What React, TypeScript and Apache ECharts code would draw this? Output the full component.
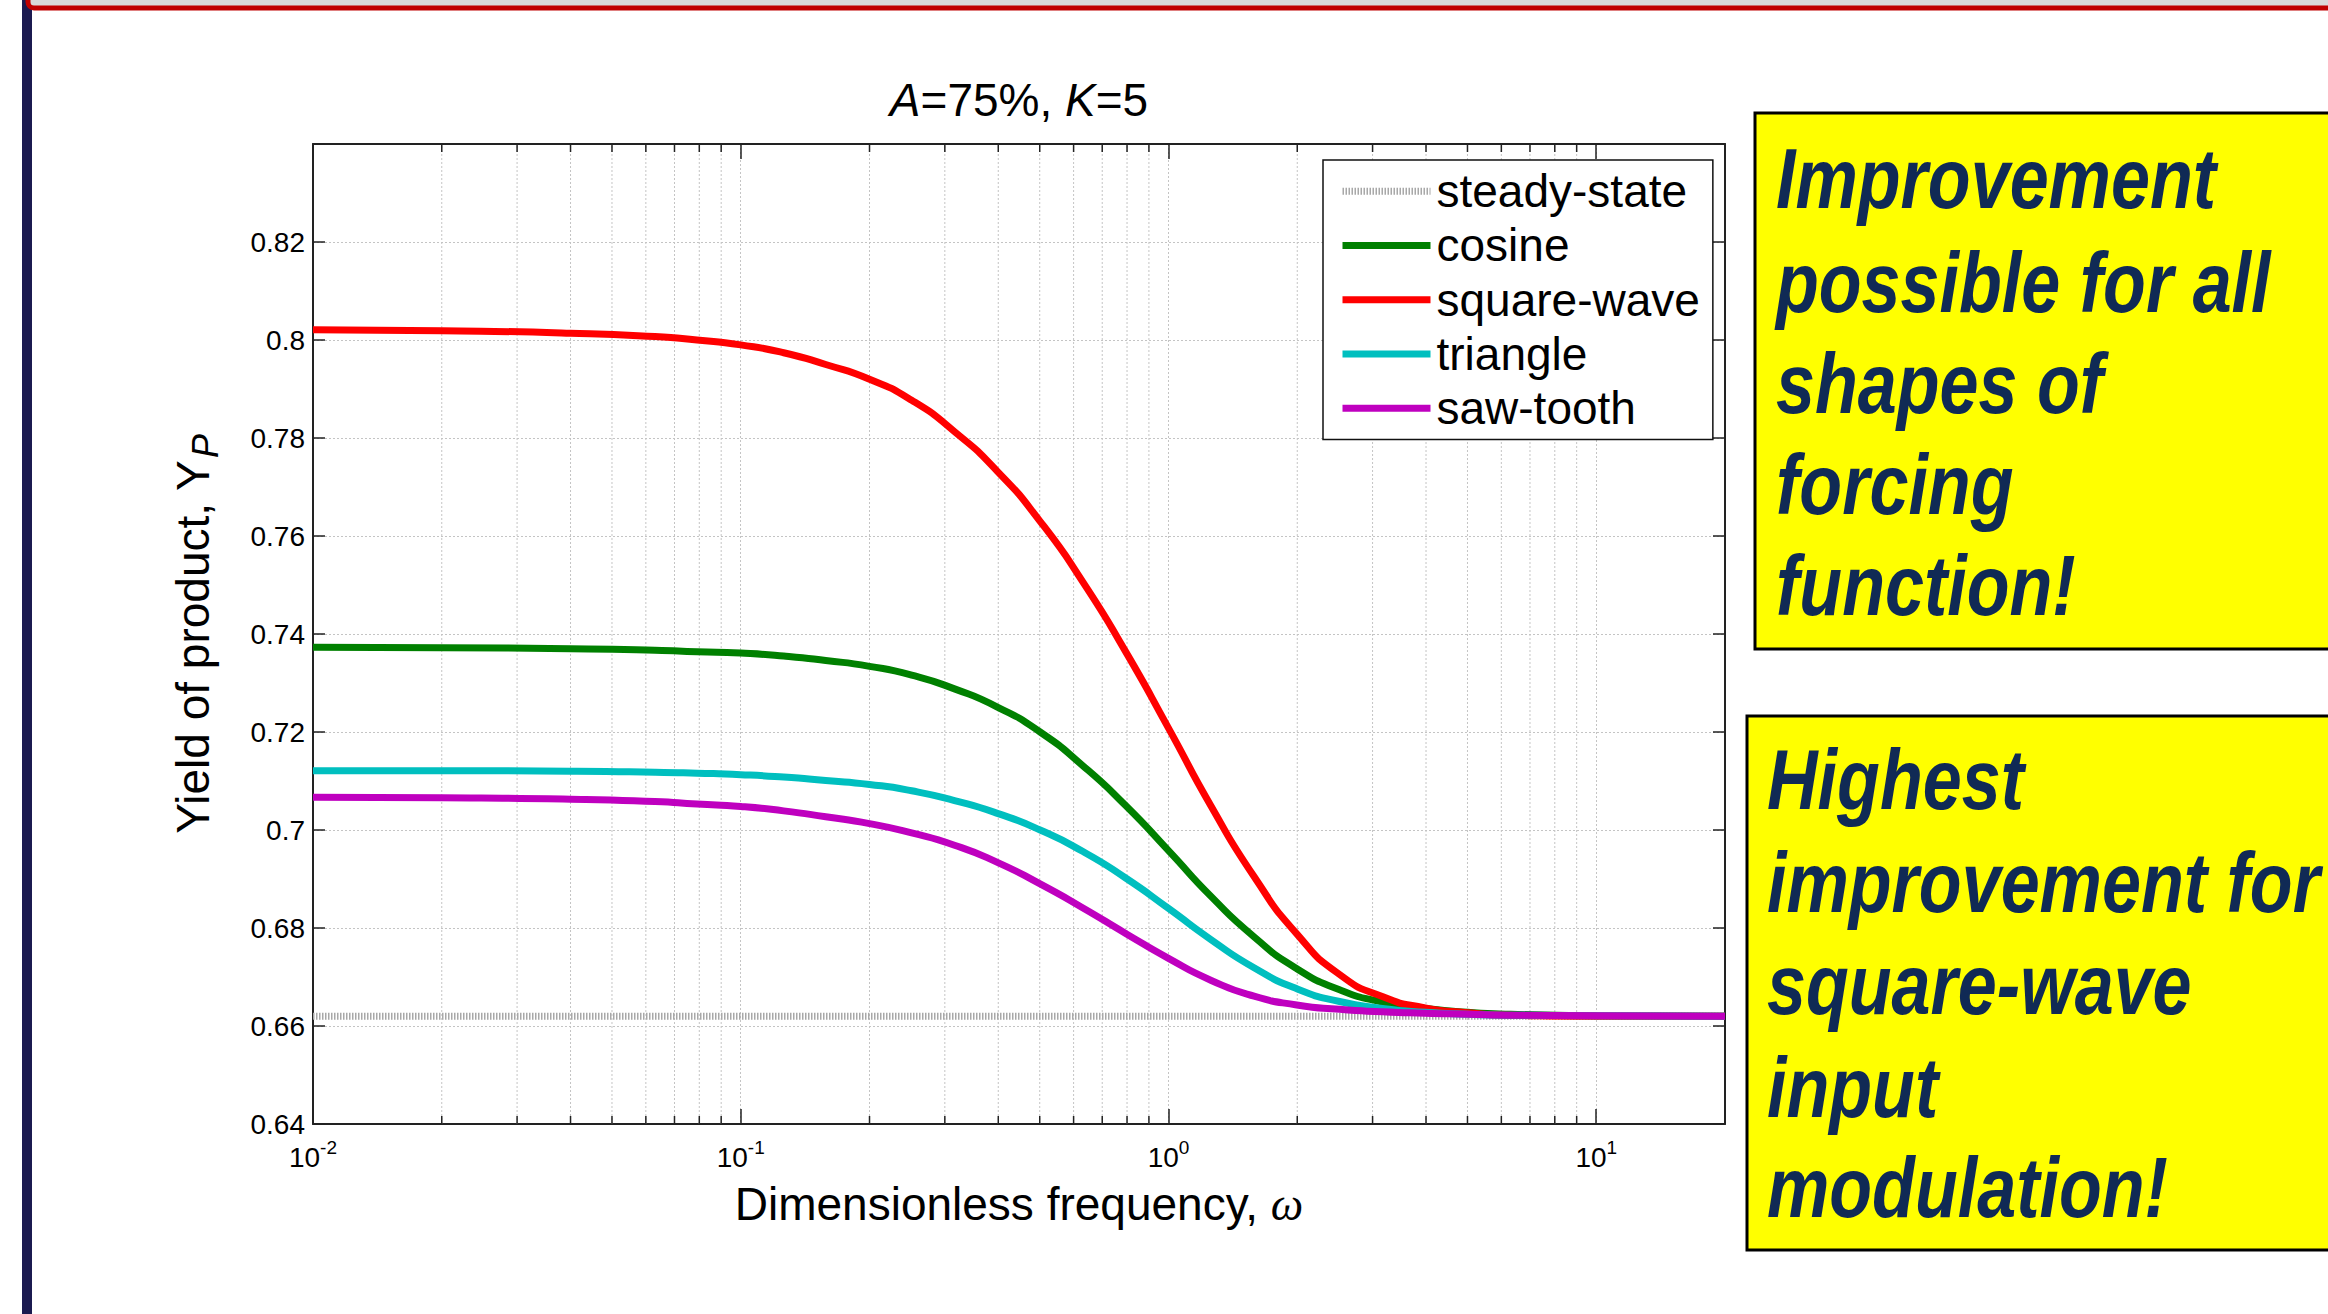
import React, { useEffect, useRef } from "react";
import * as echarts from "echarts";

// ---- data ----
const omega = [0.01, 0.02, 0.04, 0.063, 0.079, 0.1, 0.126, 0.158, 0.2, 0.251, 0.316, 0.398, 0.501, 0.631, 0.794, 1, 1.259, 1.585, 1.995, 2.512, 3.162, 3.981, 5.012, 6.31, 10, 20];
const steadyStateX = [0.01, 20];
const steadyState = [0.662, 0.662];
const cosine = [0.7373, 0.7372, 0.737, 0.7367, 0.7364, 0.7361, 0.7355, 0.7346, 0.7334, 0.7316, 0.7288, 0.7251, 0.72, 0.7131, 0.705, 0.6958, 0.6864, 0.6782, 0.6717, 0.6674, 0.6649, 0.6636, 0.6628, 0.6624, 0.6621, 0.662];
const squareWave = [0.8021, 0.8019, 0.8014, 0.8007, 0.8, 0.799, 0.7974, 0.795, 0.792, 0.7877, 0.7813, 0.7732, 0.763, 0.7506, 0.7364, 0.7208, 0.7048, 0.6905, 0.6788, 0.6705, 0.666, 0.6637, 0.6627, 0.6622, 0.662, 0.662];
const triangle = [0.7121, 0.7121, 0.712, 0.7118, 0.7116, 0.7113, 0.7108, 0.7101, 0.7093, 0.708, 0.706, 0.7034, 0.7, 0.6956, 0.6902, 0.684, 0.6776, 0.6719, 0.6676, 0.665, 0.6636, 0.6628, 0.6624, 0.6622, 0.6621, 0.662];
const sawTooth = [0.7067, 0.7066, 0.7063, 0.7058, 0.7053, 0.7048, 0.7039, 0.7027, 0.7013, 0.6994, 0.6969, 0.6934, 0.689, 0.6841, 0.6789, 0.6738, 0.6693, 0.6661, 0.6643, 0.6634, 0.6629, 0.6626, 0.6624, 0.6622, 0.6621, 0.662];

const seriesNames = ["steady-state", "cosine", "square-wave", "triangle", "saw-tooth"];
const minorGridX = [0.02, 0.03, 0.04, 0.05, 0.06, 0.07, 0.08, 0.09, 0.2, 0.3, 0.4, 0.5, 0.6, 0.7, 0.8, 0.9, 2, 3, 4, 5, 6, 7, 8, 9];
const xMin = 0.01;
const xMax = 20;
const yMin = 0.64;
const yMax = 0.84;
const yStep = 0.02;

const titleParts = ["A", "=75%, ", "K", "=5"];
const xAxisTitle = "Dimensionless frequency, ";
const yAxisTitle = "Yield of product, Y";
const box1Lines = ["Improvement", "possible for all", "shapes of", "forcing", "function!"];
const box2Lines = ["Highest", "improvement for", "square-wave", "input", "modulation!"];

const SANS = "Liberation Sans, Arial, sans-serif";
const NAVY = "#102A55";
const CLEAR = "rgba(0,0,0,0)";

export default function App() {
  const ref = useRef<HTMLDivElement>(null);

  useEffect(() => {
    if (!ref.current) return;
    const chart = echarts.init(ref.current, undefined, { renderer: "svg" });

    const lineData = (ys: number[]) => omega.map((x, i) => [x, ys[i]]);

    const curve = (name: string, ys: number[], color: string) => ({
      name,
      type: "line",
      data: lineData(ys),
      symbol: "none",
      smooth: 0.6,
      lineStyle: { color, width: 7 },
      itemStyle: { color },
      z: 3,
      silent: true,
    });

    const boxText = (lines: string[], x: number, baselines: number[]) =>
      lines.map((t, i) => ({
        type: "text",
        x,
        y: baselines[i] - 30,
        scaleX: 0.815,
        scaleY: 1,
        z: 20,
        style: {
          text: t,
          fill: NAVY,
          font: `italic bold 86px ${SANS}`,
          textAlign: "left",
          textVerticalAlign: "middle",
        },
      }));

    const option: any = {
      animation: false,
      backgroundColor: "#ffffff",
      grid: { left: 313, top: 144, right: 603, bottom: 190, containLabel: false },
      xAxis: [
        {
          type: "log",
          logBase: 10,
          min: xMin,
          max: xMax,
          position: "bottom",
          axisLine: { show: true, lineStyle: { color: "#222", width: 2 } },
          axisTick: { show: true, inside: true, length: 15, lineStyle: { color: "#222", width: 1.5 } },
          splitLine: { show: true, lineStyle: { color: "#c4c4c4", width: 1, type: [2, 2] } },
          minorTick: { show: false },
          axisLabel: {
            margin: 14,
            color: "#000",
            formatter: (v: number) => {
              const l = Math.log10(v);
              const e = Math.round(l);
              if (Math.abs(l - e) > 1e-6) return "";
              return `{b|10}{s|${e}}`;
            },
            rich: {
              b: { fontSize: 28, fontFamily: SANS, color: "#000" },
              s: { fontSize: 19, fontFamily: SANS, color: "#000", padding: [0, 0, 20, 0] },
            },
          },
        },
        {
          type: "log",
          logBase: 10,
          min: xMin,
          max: xMax,
          position: "top",
          axisLine: { show: true, lineStyle: { color: "#222", width: 2 } },
          axisTick: { show: true, inside: true, length: 15, lineStyle: { color: "#222", width: 1.5 } },
          splitLine: { show: false },
          axisLabel: { show: false },
        },
      ],
      yAxis: [
        {
          type: "value",
          min: yMin,
          max: yMax,
          interval: yStep,
          position: "left",
          axisLine: { show: true, lineStyle: { color: "#222", width: 2 } },
          axisTick: { show: true, inside: true, length: 12, lineStyle: { color: "#222", width: 1.5 } },
          splitLine: { show: true, lineStyle: { color: "#c4c4c4", width: 1, type: [2, 2] } },
          axisLabel: {
            margin: 8,
            color: "#000",
            fontSize: 28,
            fontFamily: SANS,
            formatter: (v: number) => (Math.abs(v - yMax) < 1e-9 ? "" : String(+v.toFixed(2))),
          },
        },
        {
          type: "value",
          min: yMin,
          max: yMax,
          interval: yStep,
          position: "right",
          axisLine: { show: true, lineStyle: { color: "#222", width: 2 } },
          axisTick: { show: true, inside: true, length: 12, lineStyle: { color: "#222", width: 1.5 } },
          splitLine: { show: false },
          axisLabel: { show: false },
        },
      ],
      legend: {
        data: seriesNames,
        orient: "vertical",
        left: 1323,
        top: 160,
        padding: [4, 13, 4, 16],
        itemWidth: 88,
        itemHeight: 14,
        itemGap: 0,
        backgroundColor: "#ffffff",
        borderColor: "#111",
        borderWidth: 1.5,
        selectedMode: false,
        lineStyle: { width: 7 },
        itemStyle: { color: CLEAR, borderColor: CLEAR, borderWidth: 0, opacity: 0 },
        textStyle: { fontSize: 46, fontFamily: SANS, color: "#000", lineHeight: 54.3, padding: [0, 0, 0, 1] },
        z: 10,
      },
      series: [
        {
          type: "custom",
          coordinateSystem: "cartesian2d",
          silent: true,
          z: 1,
          data: minorGridX.map((v) => [v, yMin]),
          encode: { x: 0, y: 1 },
          renderItem: (_params: any, api: any) => {
            const v = api.value(0);
            const b = api.coord([v, yMin]);
            const t = api.coord([v, yMax]);
            return {
              type: "group",
              children: [
                { type: "line", shape: { x1: b[0], y1: b[1], x2: t[0], y2: t[1] }, style: { stroke: "#c4c4c4", lineWidth: 1, lineDash: [2, 2] } },
                { type: "line", shape: { x1: b[0], y1: b[1], x2: b[0], y2: b[1] - 8 }, style: { stroke: "#222", lineWidth: 1.5 } },
                { type: "line", shape: { x1: t[0], y1: t[1], x2: t[0], y2: t[1] + 8 }, style: { stroke: "#222", lineWidth: 1.5 } },
              ],
            };
          },
        },
        {
          name: "steady-state",
          type: "line",
          data: steadyStateX.map((x, i) => [x, steadyState[i]]),
          symbol: "none",
          lineStyle: { color: "#a8a8a8", width: 7, type: [1.5, 1.5], cap: "butt" },
          itemStyle: { color: "#a8a8a8" },
          z: 2,
          silent: true,
        },
        curve("cosine", cosine, "#008000"),
        curve("square-wave", squareWave, "#ff0000"),
        curve("triangle", triangle, "#00bfbf"),
        curve("saw-tooth", sawTooth, "#bf00bf"),
      ],
      graphic: [
        { type: "rect", z: 0, shape: { x: 22, y: 0, width: 10, height: 1314 }, style: { fill: "#1b1a50" } },
        { type: "rect", z: 1, shape: { x: 28, y: -100, width: 2400, height: 108, r: 6 }, style: { fill: "#d9d9d9", stroke: "#c00000", lineWidth: 5 } },
        {
          type: "text",
          x: 1019,
          y: 100,
          style: {
            text: `{i|${titleParts[0]}}{n|${titleParts[1]}}{i|${titleParts[2]}}{n|${titleParts[3]}}`,
            textAlign: "center",
            textVerticalAlign: "middle",
            rich: {
              i: { fontSize: 46, fontFamily: SANS, fontStyle: "italic", fill: "#000" },
              n: { fontSize: 46, fontFamily: SANS, fill: "#000" },
            },
          },
        },
        {
          type: "text",
          x: 1019,
          y: 1204,
          style: {
            text: `{n|${xAxisTitle}}{w|ω}`,
            textAlign: "center",
            textVerticalAlign: "middle",
            rich: {
              n: { fontSize: 46, fontFamily: SANS, fill: "#000" },
              w: { fontSize: 46, fontFamily: "Liberation Serif, Times New Roman, serif", fontStyle: "italic", fill: "#000" },
            },
          },
        },
        {
          type: "text",
          x: 193,
          y: 634,
          rotation: Math.PI / 2,
          style: {
            text: `{n|${yAxisTitle}}{p|P}`,
            textAlign: "center",
            textVerticalAlign: "middle",
            rich: {
              n: { fontSize: 46, fontFamily: SANS, fill: "#000" },
              p: { fontSize: 36, fontFamily: SANS, fontStyle: "italic", fill: "#000", padding: [24, 0, 0, 2] },
            },
          },
        },
        { type: "rect", z: 15, shape: { x: 1755, y: 113, width: 700, height: 536 }, style: { fill: "#ffff00", stroke: "#000", lineWidth: 3 } },
        ...boxText(box1Lines, 1776, [208, 312, 413, 514, 615]),
        { type: "rect", z: 15, shape: { x: 1747, y: 716, width: 700, height: 534 }, style: { fill: "#ffff00", stroke: "#000", lineWidth: 3 } },
        ...boxText(box2Lines, 1767, [809, 912, 1014, 1117, 1217]),
      ],
    };

    chart.setOption(option);
    return () => chart.dispose();
  }, []);

  return <div ref={ref} style={{ position: "absolute", left: 0, top: 0, width: 2328, height: 1314 }} />;
}
